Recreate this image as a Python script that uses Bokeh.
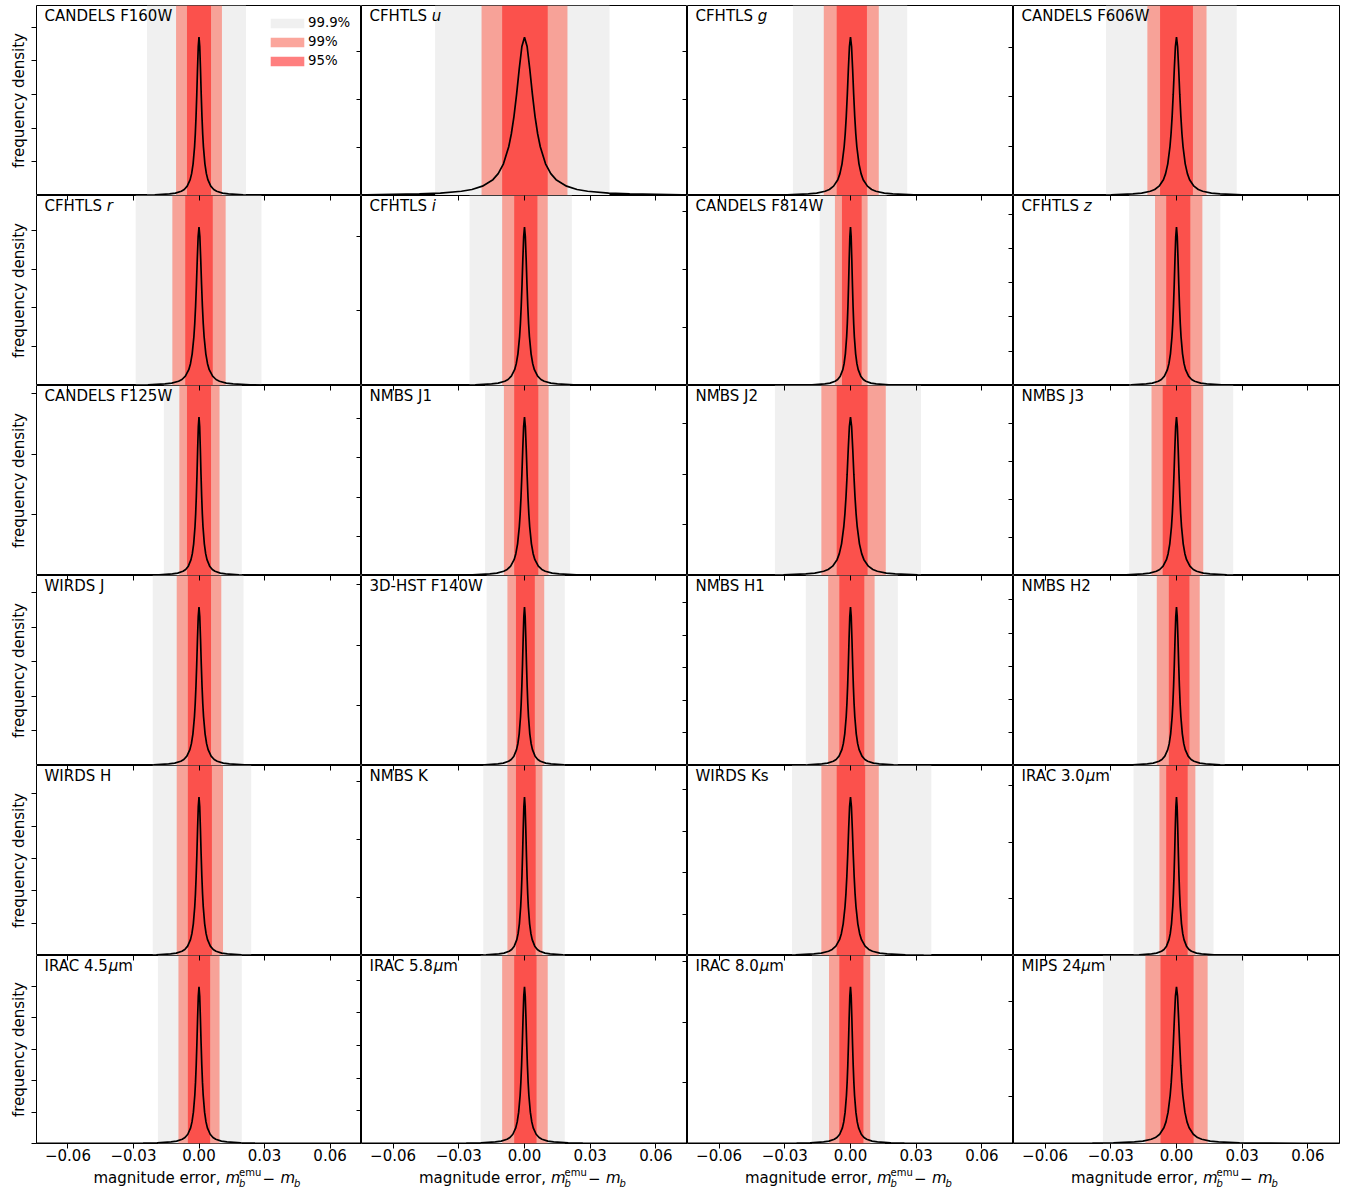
from bokeh.plotting import figure
from bokeh.layouts import gridplot
from bokeh.models import (Range1d, FixedTicker, LinearAxis, Label, Legend, LegendItem,
                          CustomJSTickFormatter)
from bokeh.embed import file_html
from bokeh.resources import INLINE

# ---------------- data ----------------
# panel titles: (plain prefix, italic part, plain suffix)
titles = [
    ("CANDELS F160W", "", ""), ("CFHTLS ", "u", ""), ("CFHTLS ", "g", ""), ("CANDELS F606W", "", ""),
    ("CFHTLS ", "r", ""), ("CFHTLS ", "i", ""), ("CANDELS F814W", "", ""), ("CFHTLS ", "z", ""),
    ("CANDELS F125W", "", ""), ("NMBS J1", "", ""), ("NMBS J2", "", ""), ("NMBS J3", "", ""),
    ("WIRDS J", "", ""), ("3D-HST F140W", "", ""), ("NMBS H1", "", ""), ("NMBS H2", "", ""),
    ("WIRDS H", "", ""), ("NMBS K", "", ""), ("WIRDS Ks", "", ""), ("IRAC 3.0", "\u03bc", "m"),
    ("IRAC 4.5", "\u03bc", "m"), ("IRAC 5.8", "\u03bc", "m"), ("IRAC 8.0", "\u03bc", "m"), ("MIPS 24", "\u03bc", "m"),
]

# interval edges (magnitude error)
ci999_lo = [-0.0238, -0.0408, -0.0263, -0.0322, -0.0290, -0.0251, -0.0141, -0.0216,
            -0.0161, -0.0180, -0.0345, -0.0216, -0.0212, -0.0173, -0.0204, -0.0180,
            -0.0212, -0.0188, -0.0267, -0.0196, -0.0188, -0.0200, -0.0176, -0.0336]
ci999_hi = [0.0215, 0.0388, 0.0259, 0.0275, 0.0286, 0.0216, 0.0165, 0.0200,
            0.0196, 0.0208, 0.0322, 0.0259, 0.0204, 0.0184, 0.0216, 0.0220,
            0.0239, 0.0184, 0.0369, 0.0169, 0.0196, 0.0184, 0.0157, 0.0308]
ci99_lo = [-0.0105, -0.0196, -0.0122, -0.0133, -0.0122, -0.0102, -0.0071, -0.0098,
           -0.0090, -0.0094, -0.0133, -0.0114, -0.0102, -0.0078, -0.0102, -0.0090,
           -0.0102, -0.0078, -0.0133, -0.0078, -0.0094, -0.0102, -0.0098, -0.0142]
ci99_hi = [0.0105, 0.0196, 0.0129, 0.0137, 0.0122, 0.0106, 0.0078, 0.0118,
           0.0094, 0.0110, 0.0161, 0.0122, 0.0102, 0.0090, 0.0110, 0.0106,
           0.0110, 0.0082, 0.0129, 0.0086, 0.0094, 0.0106, 0.0090, 0.0142]
ci95_lo = [-0.0055, -0.0102, -0.0063, -0.0075, -0.0063, -0.0047, -0.0039, -0.0047,
           -0.0055, -0.0047, -0.0063, -0.0063, -0.0051, -0.0039, -0.0051, -0.0035,
           -0.0051, -0.0039, -0.0063, -0.0047, -0.0051, -0.0047, -0.0051, -0.0073]
ci95_hi = [0.0055, 0.0106, 0.0075, 0.0075, 0.0063, 0.0059, 0.0051, 0.0063,
           0.0055, 0.0063, 0.0078, 0.0067, 0.0055, 0.0047, 0.0063, 0.0059,
           0.0059, 0.0051, 0.0067, 0.0051, 0.0051, 0.0055, 0.0059, 0.0078]

# density curve: peak value and half width at half maximum per panel
peak = [235, 66, 165, 160, 204, 212, 273, 231, 261, 202, 156, 208,
        229, 263, 243, 239, 245, 273, 191, 280, 249, 240, 258, 166]
hwhm = [0.00135, 0.0048, 0.00193, 0.00199, 0.00156, 0.0015, 0.00117, 0.00138,
        0.00122, 0.00158, 0.00204, 0.00153, 0.00139, 0.00121, 0.00131, 0.00133,
        0.0013, 0.00117, 0.00167, 0.00114, 0.00128, 0.00133, 0.00123, 0.00192]
ytick_step = [50, 20, 50, 50, 50, 100, 100, 50, 100, 50, 50, 50,
              50, 100, 50, 50, 50, 100, 50, 100, 50, 50, 100, 50]
# shape of the peak (offset in half-widths, relative height)
prof_u = [0, 0.25, 0.5, 0.75, 1.0, 1.25, 1.5, 2.0, 2.5, 3.0, 4.0, 5.0, 6.0, 8.0,
          10.0, 15.0, 20.0, 30.0, 50.0, 80.0]
prof_h = [1.0, 0.941, 0.8, 0.64, 0.5, 0.39, 0.308, 0.2, 0.138, 0.1, 0.059, 0.038,
          0.027, 0.015, 0.0099, 0.0044, 0.0025, 0.0011, 0.0004, 0.00016]

xticks = [-0.06, -0.03, 0.0, 0.03, 0.06]
band_labels = ["99.9%", "99%", "95%"]

# ---------------- style ----------------
FONT = "DejaVu Sans"
FS = "15px"
FSPX = 15.0
W = [325, 326, 326, 326]
HR = [190, 190, 190, 190, 190, 188]
XR = (-0.0744, 0.0744)

EM = {'C': 0.698, 'F': 0.575, 'H': 0.752, 'T': 0.611, 'L': 0.557, 'S': 0.635, ' ': 0.318,
      'I': 0.295, 'R': 0.695, 'A': 0.684, 'M': 0.863, 'P': 0.603, '.': 0.318,
      '\u03bc': 0.636, 'u': 0.634, 'g': 0.635, 'r': 0.411, 'i': 0.278, 'z': 0.525}


def text_w(s):
    return sum(EM.get(ch, 0.636) for ch in s) * FSPX


def style_hidden(ax):
    ax.major_label_text_color = None
    ax.minor_tick_line_color = None
    ax.axis_line_color = None
    ax.major_tick_line_color = "black"
    ax.major_tick_line_width = 1


yranges, yticks = [], []
for k in range(24):
    ymax = 1.2 * peak[k]
    yranges.append(Range1d(0, ymax))
    n = int(ymax // ytick_step[k])
    yticks.append([ytick_step[k] * j for j in range(n + 1)])

rows = []
for r in range(6):
    row = []
    H = HR[r]
    for c in range(4):
        k = 4 * r + c
        ymax = yranges[k].end
        p = figure(frame_width=W[c], frame_height=H, x_range=Range1d(*XR), y_range=yranges[k],
                   x_axis_location=None, y_axis_location=None, toolbar_location=None,
                   output_backend="svg", min_border=0,
                   min_border_left=36 if c == 0 else 0, min_border_right=8 if c == 3 else 0,
                   min_border_top=5 if r == 0 else 0, min_border_bottom=23 if r == 5 else 0)
        p.outline_line_color = "black"
        p.outline_line_width = 1
        p.background_fill_color = "white"
        p.border_fill_color = "white"
        p.grid.visible = False

        q1 = p.quad(left=[ci999_lo[k]], right=[ci999_hi[k]], bottom=[0], top=[ymax],
                    fill_color="#f0f0f0", line_color=None)
        q2 = p.quad(left=[ci99_lo[k]], right=[ci99_hi[k]], bottom=[0], top=[ymax],
                    fill_color="salmon", fill_alpha=0.7, line_color=None)
        q3 = p.quad(left=[ci95_lo[k]], right=[ci95_hi[k]], bottom=[0], top=[ymax],
                    fill_color="red", fill_alpha=0.5, line_color=None)

        xs = [-hwhm[k] * u for u in reversed(prof_u)] + [hwhm[k] * u for u in prof_u[1:]]
        ys = [peak[k] * h for h in reversed(prof_h)] + [peak[k] * h for h in prof_h[1:]]
        p.line(xs, ys, line_color="black", line_width=1.7)

        if c == 0:
            ax = LinearAxis(ticker=FixedTicker(ticks=yticks[k]), major_tick_out=5, major_tick_in=0,
                            axis_label="frequency density", axis_label_standoff=4,
                            axis_label_text_font=FONT, axis_label_text_font_size=FS,
                            axis_label_text_font_style="normal", axis_label_text_color="black")
            style_hidden(ax)
            p.add_layout(ax, "left")
        if c < 3:
            p.extra_y_ranges = {"nb": yranges[k + 1]}
            ax = LinearAxis(y_range_name="nb", ticker=FixedTicker(ticks=yticks[k + 1]),
                            major_tick_in=5, major_tick_out=0)
            style_hidden(ax)
            p.add_layout(ax, "right")
        if r > 0:
            ax = LinearAxis(ticker=FixedTicker(ticks=xticks), major_tick_in=5, major_tick_out=0)
            style_hidden(ax)
            p.add_layout(ax, "above")
        if r == 5:
            ax = LinearAxis(ticker=FixedTicker(ticks=xticks), major_tick_in=0, major_tick_out=5,
                            major_label_standoff=0,
                            formatter=CustomJSTickFormatter(
                                code="return (tick < -1e-9 ? '\u2212' : '') + Math.abs(tick).toFixed(2);"))
            ax.major_label_text_font = FONT
            ax.major_label_text_font_size = FS
            ax.major_label_text_line_height = 1.0
            ax.major_label_text_color = "black"
            ax.axis_line_color = None
            ax.minor_tick_line_color = None
            ax.major_tick_line_color = "black"
            p.add_layout(ax, "below")

        pre, ital, suf = titles[k]
        tx = 8.0
        for txt, sty in ((pre, "normal"), (ital, "italic"), (suf, "normal")):
            if txt:
                p.add_layout(Label(x=tx, y=H - 10.5, x_units="screen", y_units="screen", text=txt,
                                   text_font=FONT, text_font_size=FS, text_font_style=sty,
                                   text_color="black", text_align="left",
                                   text_baseline="alphabetic"))
                tx += text_w(txt)

        if k == 0:
            leg = Legend(items=[LegendItem(label=band_labels[0], renderers=[q1]),
                                LegendItem(label=band_labels[1], renderers=[q2]),
                                LegendItem(label=band_labels[2], renderers=[q3])],
                         location=(230, 126), margin=0, padding=7, spacing=2,
                         glyph_width=42, glyph_height=12, label_height=17, label_standoff=0,
                         label_text_font=FONT, label_text_font_size="13.3px",
                         label_text_color="black",
                         border_line_color=None, background_fill_alpha=0)
            p.add_layout(leg)
        row.append(p)
    rows.append(row)

# row holding the x-axis title under each bottom panel
label_row = []
parts = [("magnitude error,", "normal", FS, -105.5, 11.5),
         ("m", "italic", FS, 26.5, 11.5),
         ("emu", "normal", "10px", 40.0, 16.7),
         ("b", "italic", "10px", 40.0, 5.7),
         ("\u2212", "normal", FS, 63.5, 11.5),
         ("m", "italic", FS, 81.5, 11.5),
         ("b", "italic", "10px", 95.0, 5.7)]
for c in range(4):
    q = figure(frame_width=W[c], frame_height=23, x_range=Range1d(*XR), y_range=Range1d(0, 1),
               x_axis_location=None, y_axis_location=None, toolbar_location=None,
               output_backend="svg", min_border=0,
               min_border_left=36 if c == 0 else 0, min_border_right=8 if c == 3 else 0)
    q.outline_line_color = None
    q.background_fill_color = "white"
    q.border_fill_color = "white"
    q.grid.visible = False
    for txt, sty, fs, xo, yo in parts:
        q.add_layout(Label(x=0, x_units="data", x_offset=xo, y=yo, y_units="screen",
                           text=txt, text_font=FONT, text_font_size=fs,
                           text_font_style=sty, text_color="black",
                           text_align="left", text_baseline="alphabetic"))
    label_row.append(q)
rows.append(label_row)

grid = gridplot(rows, toolbar_location=None)
open("out.html", "w").write(file_html(grid, INLINE))
